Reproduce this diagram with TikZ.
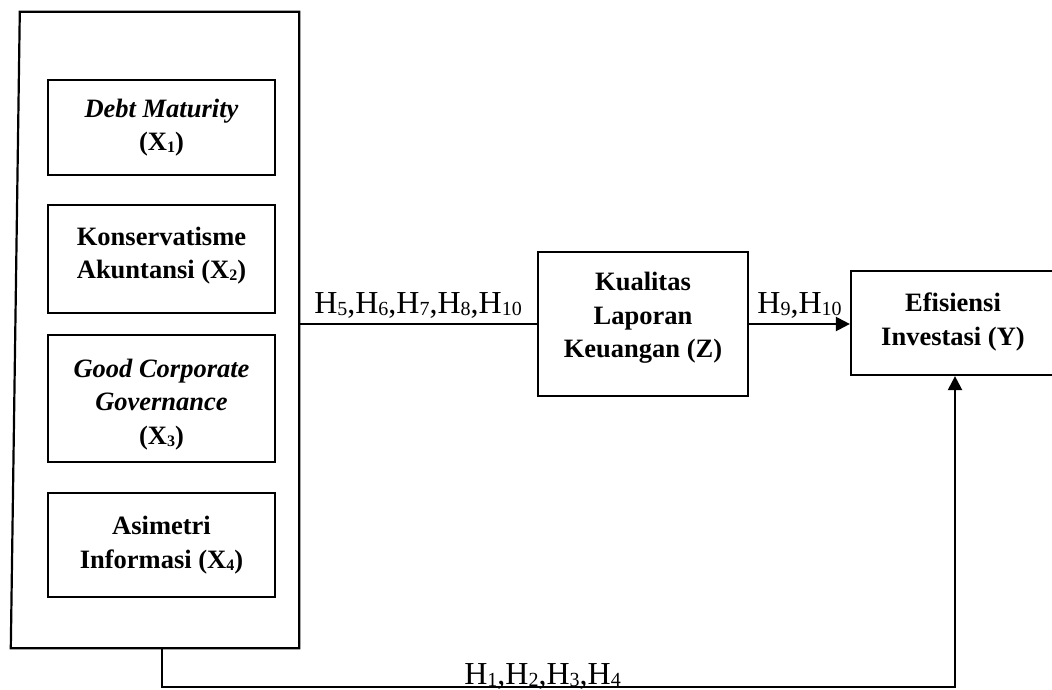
\documentclass[tikz,border=0pt]{standalone}
\usepackage{fontspec}
\setmainfont{Liberation Serif}
\usetikzlibrary{arrows.meta,positioning}

\tikzstyle{block} = [draw, rectangle, line width=2.2pt, text centered, align=center, font=\fontsize{26.5}{33.5}\selectfont\bfseries, inner sep=0pt]
\tikzstyle{varbox} = [block, minimum width=227pt]
\tikzstyle{arrowtext} = [font=\fontsize{32}{36}\selectfont, inner sep=0pt]
\tikzstyle{line} = [draw, line width=2.2pt]
\tikzstyle{arrow} = [line, -{Triangle[length=14pt,width=14pt]}]

\newcommand{\hsub}[1]{\raisebox{-2pt}{\fontsize{20}{20}\selectfont #1}}
\newcommand{\xsub}[1]{\raisebox{-2pt}{\fontsize{16}{16}\selectfont #1}}
% extra depth / height to move a box text up / down
\newcommand{\lift}[1]{\rule[-#1]{0pt}{#1}}
\newcommand{\sink}[1]{\rule{0pt}{#1}}

\begin{document}
\begin{tikzpicture}[x=1pt, y=-1pt]
	\useasboundingbox (0,0) rectangle (1052,690);
	\clip (0,0) rectangle (1052,690);

	% Independent variables
	\node [minimum width=288pt, minimum height=636pt, inner sep=0pt] (group) at (155,330) {};
	\draw [line] ([xshift=9pt] group.north west) -- (group.north east) -- (group.south east) -- (group.south west) -- cycle;
	\node [varbox, minimum height=95pt] (debt) at (161.5,127.5) {\textit{Debt Maturity}\\(X\xsub{1})\lift{4pt}};
	\node [varbox, minimum height=108pt] (konservatisme) at (161.5,259) {Konservatisme\\Akuntansi (X\xsub{2})\lift{12pt}};
	\node [varbox, minimum height=127pt] (gcg) at (161.5,398.5) {\sink{30pt}\textit{Good Corporate}\\\textit{Governance}\\(X\xsub{3})};
	\node [varbox, minimum height=104pt] (asimetri) at (161.5,545) {Asimetri\\Informasi (X\xsub{4})};

	% Mediator and dependent
	\node [block, minimum width=210pt, minimum height=144pt] (kualitas) at (643,324) {Kualitas\\Laporan\\Keuangan (Z)\lift{18pt}};
	\node [block, minimum width=204pt, minimum height=104pt] (efisiensi) at (953,323) {Efisiensi\\Investasi (Y)\lift{8pt}};

	\draw [line] (group.east |- kualitas.west) to node[arrowtext, above=4pt] {H\hsub{5},H\hsub{6},H\hsub{7},H\hsub{8},H\hsub{10}} (kualitas.west);
	\draw [arrow] (kualitas.east) to node[arrowtext, above=4pt] {H\hsub{9},H\hsub{10}} (kualitas.east -| efisiensi.west);

	% Direct effect
	\coordinate (tap) at ([xshift=151pt] group.south west);
	\coordinate (turn) at (955,687);
	\draw [arrow] (tap) |- node[arrowtext, pos=0.74, anchor=base, yshift=3pt] {H\hsub{1},H\hsub{2},H\hsub{3},H\hsub{4}} (turn) -- (turn |- efisiensi.south);
\end{tikzpicture}
\end{document}
